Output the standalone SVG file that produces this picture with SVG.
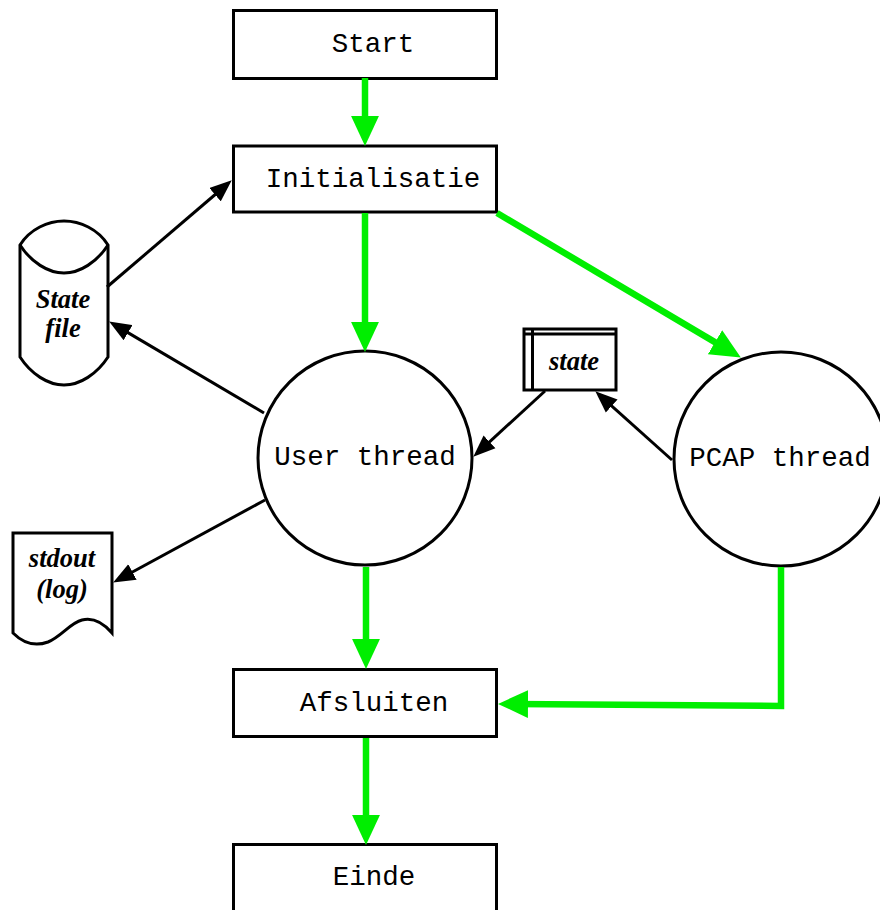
<svg xmlns="http://www.w3.org/2000/svg" width="880" height="910" viewBox="0 0 880 910">
  <style>
    .box { fill: #fff; stroke: #000; stroke-width: 3; }
    .shape { fill: #fff; stroke: #000; stroke-width: 3; stroke-linejoin: miter; }
    .line { fill: none; stroke: #000; stroke-width: 3; }
    .mono { font-family: "Liberation Mono", "Courier New", monospace; font-size: 27.5px; fill: #000; text-anchor: middle; }
    .ital { font-family: "Liberation Serif", "Times New Roman", serif; font-size: 26.5px; font-weight: bold; font-style: italic; fill: #000; text-anchor: middle; }
    .flow { fill: none; stroke: #00ee00; stroke-width: 6.5; stroke-linejoin: miter; }
    .data { fill: none; stroke: #000; stroke-width: 3; }
  </style>
  <defs>
    <marker id="greenHead" markerUnits="userSpaceOnUse" markerWidth="30" markerHeight="28" viewBox="0 0 28 26" refX="14" refY="13" orient="auto">
      <path d="M0,0 L28,13 L0,26 Z" fill="#00ee00"/>
    </marker>
    <marker id="blackHead" markerUnits="userSpaceOnUse" markerWidth="22" markerHeight="18" viewBox="0 0 20 16" refX="10" refY="8" orient="auto">
      <path d="M0,0 L20,8 L0,16 Z" fill="#000"/>
    </marker>
  </defs>

  <rect width="880" height="910" fill="#fff"/>

  <!-- process boxes -->
  <g id="start">
    <rect class="box" x="233.5" y="10.5" width="263" height="68"/>
    <text class="mono" x="373" y="52">Start</text>
  </g>
  <g id="initialisatie">
    <rect class="box" x="233.5" y="146" width="263" height="66"/>
    <text class="mono" x="373" y="187">Initialisatie</text>
  </g>
  <g id="afsluiten">
    <rect class="box" x="233.5" y="669.5" width="263" height="67"/>
    <text class="mono" x="374" y="711">Afsluiten</text>
  </g>
  <g id="einde">
    <rect class="box" x="233.5" y="844.5" width="263" height="80"/>
    <text class="mono" x="374" y="885">Einde</text>
  </g>

  <!-- threads -->
  <g id="user-thread">
    <circle class="shape" cx="365" cy="458" r="107"/>
    <text class="mono" x="365" y="465">User thread</text>
  </g>
  <g id="pcap-thread">
    <circle class="shape" cx="781" cy="459" r="107"/>
    <text class="mono" x="780" y="466">PCAP thread</text>
  </g>

  <!-- stored data: file on disk -->
  <g id="state-file">
    <path class="shape" d="M20,245 C30,229 48,221 64,221 C80,221 98,229 108,245 V357 C97,374 80,385 64,385 C48,385 31,374 20,357 Z"/>
    <path class="line" d="M20,245 C31,262 48,273 64,273 C80,273 97,262 108,245"/>
    <text class="ital" x="63" y="308">State</text>
    <text class="ital" x="63" y="337">file</text>
  </g>

  <!-- shared in-memory state -->
  <g id="state">
    <rect class="shape" x="524" y="329" width="92" height="61"/>
    <line class="line" x1="532.5" y1="329" x2="532.5" y2="390"/>
    <line class="line" x1="524" y1="334" x2="616" y2="334"/>
    <text class="ital" x="574" y="370">state</text>
  </g>

  <!-- log output document -->
  <g id="stdout">
    <path class="shape" d="M13,533 H112 V633 C100,619 90,618 82,620 C70,623 62,636 48,642 C34,647 22,642 13,633 Z"/>
    <text class="ital" x="62" y="567">stdout</text>
    <text class="ital" x="62" y="598">(log)</text>
  </g>

  <!-- connectors -->
  <g id="connectors">
    <!-- control flow -->
    <line class="flow" x1="365" y1="78" x2="365" y2="131" marker-end="url(#greenHead)"/>
    <line class="flow" x1="365" y1="213" x2="365" y2="337" marker-end="url(#greenHead)"/>
    <line class="flow" x1="497" y1="213" x2="727.96" y2="349.86" marker-end="url(#greenHead)"/>
    <line class="flow" x1="366" y1="567" x2="366" y2="654" marker-end="url(#greenHead)"/>
    <polyline class="flow" points="781,567 781,706 513,704" marker-end="url(#greenHead)"/>
    <line class="flow" x1="366" y1="738" x2="366" y2="830" marker-end="url(#greenHead)"/>

    <!-- data flow -->
    <line class="data" x1="107" y1="287" x2="223.4" y2="187.5" marker-end="url(#blackHead)"/>
    <line class="data" x1="264" y1="413" x2="118.6" y2="327.1" marker-end="url(#blackHead)"/>
    <line class="data" x1="265" y1="500" x2="122.8" y2="577.2" marker-end="url(#blackHead)"/>
    <line class="data" x1="545" y1="391" x2="481.4" y2="449.3" marker-end="url(#blackHead)"/>
    <line class="data" x1="672" y1="460" x2="603.5" y2="398.7" marker-end="url(#blackHead)"/>
  </g>
</svg>
